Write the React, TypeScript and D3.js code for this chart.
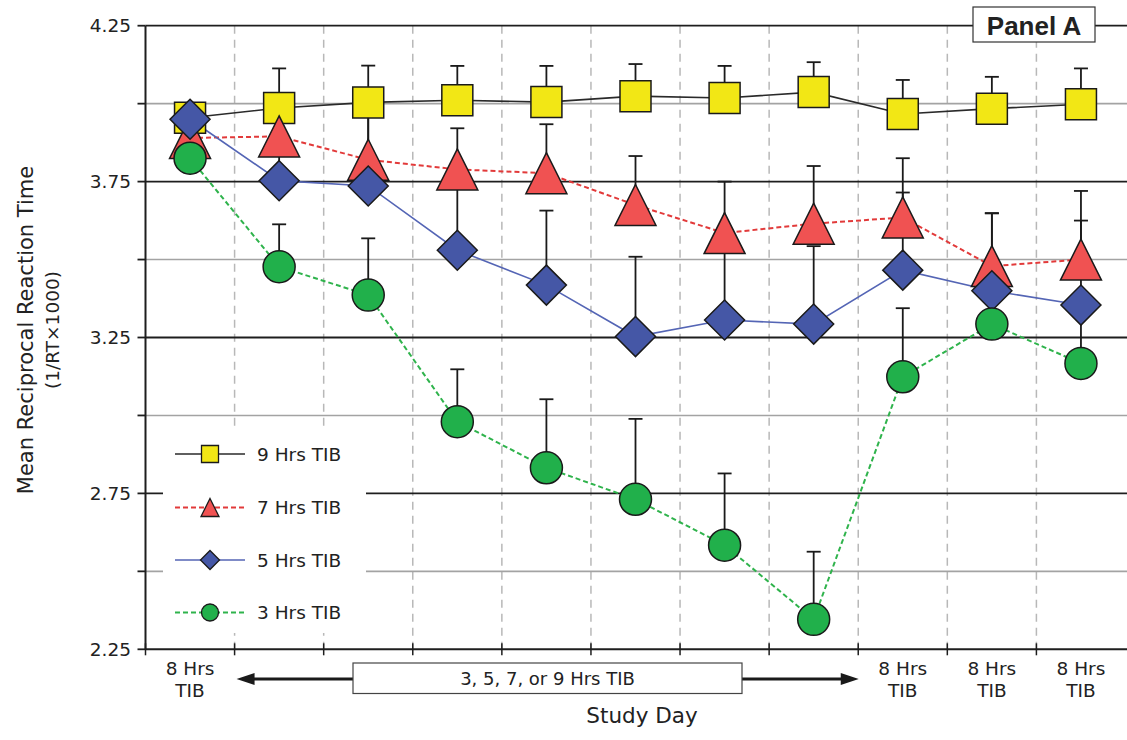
import React from "react";
import * as d3 from "d3";

const days = [1, 2, 3, 4, 5, 6, 7, 8, 9, 10, 11];
const yTicks = [2.25, 2.5, 2.75, 3.0, 3.25, 3.5, 3.75, 4.0, 4.25];
const yLabelTicks = [2.25, 2.75, 3.25, 3.75, 4.25];
const blackGrid = [2.75, 3.25, 3.75, 4.25];
const grayGrid = [2.5, 3.0, 3.5, 4.0];

const nineHrs = [3.955, 3.986, 4.004, 4.011, 4.005, 4.024, 4.018, 4.037, 3.967, 3.984, 3.998];
const nineErr = [0.03, 0.127, 0.118, 0.11, 0.116, 0.103, 0.103, 0.096, 0.109, 0.102, 0.115];
const sevenHrs = [3.89, 3.895, 3.82, 3.789, 3.777, 3.675, 3.585, 3.615, 3.635, 3.479, 3.5];
const sevenErr = [0.03, 0.1, 0.14, 0.132, 0.157, 0.157, 0.165, 0.185, 0.19, 0.17, 0.22];
const fiveHrs = [3.95, 3.753, 3.736, 3.53, 3.418, 3.253, 3.306, 3.293, 3.466, 3.4, 3.354];
const fiveErr = [0.03, 0.2, 0.23, 0.23, 0.239, 0.256, 0.24, 0.25, 0.249, 0.248, 0.271];
const threeHrs = [3.825, 3.477, 3.386, 2.98, 2.832, 2.731, 2.584, 2.346, 3.124, 3.293, 3.167];
const threeErr = [0.03, 0.136, 0.182, 0.168, 0.22, 0.258, 0.23, 0.217, 0.22, 0.1, 0.2];

const seriesNames = ["9 Hrs TIB", "7 Hrs TIB", "5 Hrs TIB", "3 Hrs TIB"];
const xLabelsSingle = ["8 Hrs", "TIB"];
const restrictionLabel = "3, 5, 7, or 9 Hrs TIB";

const W = 1127;
const H = 740;
const FONT = "'DejaVu Sans', sans-serif";

type Shape = "square" | "triangle" | "diamond" | "circle";

function markerPath(shape: Shape, s: number): string {
  const h = s / 2;
  const p = d3.path();
  if (shape === "square") {
    p.rect(-h, -h, s, s);
  } else if (shape === "triangle") {
    p.moveTo(0, -h);
    p.lineTo(h, h);
    p.lineTo(-h, h);
    p.closePath();
  } else if (shape === "diamond") {
    p.moveTo(0, -h);
    p.lineTo(h, 0);
    p.lineTo(0, h);
    p.lineTo(-h, 0);
    p.closePath();
  } else {
    p.arc(0, 0, h, 0, Math.PI * 2);
    p.closePath();
  }
  return p.toString();
}

const series = [
  { name: seriesNames[0], values: nineHrs, err: nineErr, shape: "square" as Shape, fill: "#f2e715", line: "#2a2a2a", dash: "", lw: 1.6, size: 31, legSize: 17 },
  { name: seriesNames[1], values: sevenHrs, err: sevenErr, shape: "triangle" as Shape, fill: "#f05252", line: "#e23a3a", dash: "5,3", lw: 2, size: 41, legSize: 18 },
  { name: seriesNames[2], values: fiveHrs, err: fiveErr, shape: "diamond" as Shape, fill: "#4557a6", line: "#5465b5", dash: "", lw: 1.6, size: 40, legSize: 19 },
  { name: seriesNames[3], values: threeHrs, err: threeErr, shape: "circle" as Shape, fill: "#21b04b", line: "#2fb34c", dash: "5,3", lw: 2, size: 32, legSize: 17 },
];

export default function App() {
  const x = d3.scaleLinear().domain([0.5, 11.5]).range([145.5, 1125.5]);
  const y = d3.scaleLinear().domain([2.25, 4.25]).range([649.3, 25.7]);
  const midTicks = d3.range(1.5, 11.5, 1);
  const lineGen = d3
    .line<number>()
    .x((_, i) => x(days[i]))
    .y((v) => y(v));

  const legendX = 163;
  const legendW = 203;
  const legendTop = 427;
  const legendBottom = 633;
  const legRowY = [454, 507.5, 560, 612.5];

  const arrowY = 679;
  const boxL = 353;
  const boxR = 742;

  return (
    <svg width={W} height={H} style={{ position: "absolute", left: 0, top: 0, background: "#fff" }} fontFamily={FONT}>
      <rect x={0} y={0} width={W} height={H} fill="#fff" />
      {midTicks.map((t) => (
        <line key={"v" + t} x1={x(t)} x2={x(t)} y1={y(4.25)} y2={y(2.25)} stroke="#b8b8b8" strokeWidth={1.5} strokeDasharray="8,6" />
      ))}
      {grayGrid.map((t) => (
        <line key={"g" + t} x1={x(0.5)} x2={W} y1={y(t)} y2={y(t)} stroke="#a3a3a3" strokeWidth={1.6} />
      ))}
      {blackGrid.map((t) => (
        <line key={"b" + t} x1={x(0.5)} x2={W} y1={y(t)} y2={y(t)} stroke="#1e1e1e" strokeWidth={1.8} />
      ))}
      <rect x={legendX} y={legendTop} width={legendW} height={legendBottom - legendTop} fill="#fff" />

      <line x1={x(0.5)} x2={x(0.5)} y1={y(4.25)} y2={y(2.25)} stroke="#1e1e1e" strokeWidth={2} />
      <line x1={x(0.5)} x2={W} y1={y(2.25)} y2={y(2.25)} stroke="#1e1e1e" strokeWidth={2} />
      {yTicks.map((t) => (
        <line key={"yt" + t} x1={x(0.5) - 8} x2={x(0.5)} y1={y(t)} y2={y(t)} stroke="#1e1e1e" strokeWidth={1.8} />
      ))}
      {yLabelTicks.map((t) => (
        <text key={"yl" + t} x={131} y={y(t)} dy="0.36em" textAnchor="end" fontSize={18.5} fill="#222">
          {t.toFixed(2)}
        </text>
      ))}
      {[0.5, ...midTicks].map((t) => (
        <line key={"xt" + t} x1={x(t)} x2={x(t)} y1={y(2.25) - 6} y2={y(2.25) + 6} stroke="#1e1e1e" strokeWidth={1.5} />
      ))}

      <g transform={`translate(33,330) rotate(-90)`}>
        <text textAnchor="middle" fontSize={21} fill="#222">Mean Reciprocal Reaction Time</text>
      </g>
      <g transform={`translate(59,330) rotate(-90)`}>
        <text textAnchor="middle" fontSize={18.5} fill="#222">(1/RT×1000)</text>
      </g>

      {[1, 9, 10, 11].map((d) => (
        <text key={"xl" + d} x={x(d)} y={675} textAnchor="middle" fontSize={18.5} fill="#222">
          <tspan x={x(d)}>{xLabelsSingle[0]}</tspan>
          <tspan x={x(d)} dy={22}>{xLabelsSingle[1]}</tspan>
        </text>
      ))}
      <line x1={boxL} x2={x(1.5) + 16} y1={arrowY} y2={arrowY} stroke="#1a1a1a" strokeWidth={3} />
      <path d={`M${x(1.5) + 2},${arrowY} L${x(1.5) + 20},${arrowY - 6} L${x(1.5) + 20},${arrowY + 6} Z`} fill="#1a1a1a" />
      <line x1={boxR} x2={x(8.5) - 16} y1={arrowY} y2={arrowY} stroke="#1a1a1a" strokeWidth={3} />
      <path d={`M${x(8.5) + 0.5},${arrowY} L${x(8.5) - 17.5},${arrowY - 6} L${x(8.5) - 17.5},${arrowY + 6} Z`} fill="#1a1a1a" />
      <rect x={boxL} y={663} width={boxR - boxL} height={30.5} fill="#fff" stroke="#444" strokeWidth={1.2} />
      <text x={(boxL + boxR) / 2} y={685} textAnchor="middle" fontSize={18} fill="#222">{restrictionLabel}</text>
      <text x={642} y={723} textAnchor="middle" fontSize={21.5} fill="#222">Study Day</text>

      {series.map((s) => (
        <g key={"e" + s.name}>
          {s.values.map((v, i) => (
            <g key={i}>
              <line x1={x(days[i])} x2={x(days[i])} y1={y(v)} y2={y(v + s.err[i])} stroke="#1a1a1a" strokeWidth={1.8} />
              <line x1={x(days[i]) - 7} x2={x(days[i]) + 7} y1={y(v + s.err[i])} y2={y(v + s.err[i])} stroke="#1a1a1a" strokeWidth={1.8} />
            </g>
          ))}
        </g>
      ))}
      {series.map((s) => (
        <path key={"l" + s.name} d={lineGen(s.values) || ""} fill="none" stroke={s.line} strokeWidth={s.lw} strokeDasharray={s.dash || undefined} />
      ))}
      {series.map((s) => (
        <g key={"m" + s.name}>
          {s.values.map((v, i) => (
            <path key={i} transform={`translate(${x(days[i])},${y(v)})`} d={markerPath(s.shape, s.size)} fill={s.fill} stroke="#1a1a1a" strokeWidth={1.5} strokeLinejoin="miter" />
          ))}
        </g>
      ))}

      {series.map((s, i) => (
        <g key={"leg" + s.name} transform={`translate(0,${legRowY[i]})`}>
          <line x1={175} x2={245} y1={0} y2={0} stroke={s.line} strokeWidth={s.lw} strokeDasharray={s.dash || undefined} />
          <path transform="translate(210,0)" d={markerPath(s.shape, s.legSize)} fill={s.fill} stroke="#1a1a1a" strokeWidth={1.3} />
          <text x={257} y={0} dy="0.36em" fontSize={18.5} fill="#222">{s.name}</text>
        </g>
      ))}

      <rect x={973} y={7} width={122} height={35} fill="#fff" stroke="#333" strokeWidth={1.2} />
      <text x={1034} y={34.5} textAnchor="middle" fontSize={26} fontWeight="bold" fontFamily="'Liberation Sans', Arial, sans-serif" fill="#222">Panel A</text>
    </svg>
  );
}
